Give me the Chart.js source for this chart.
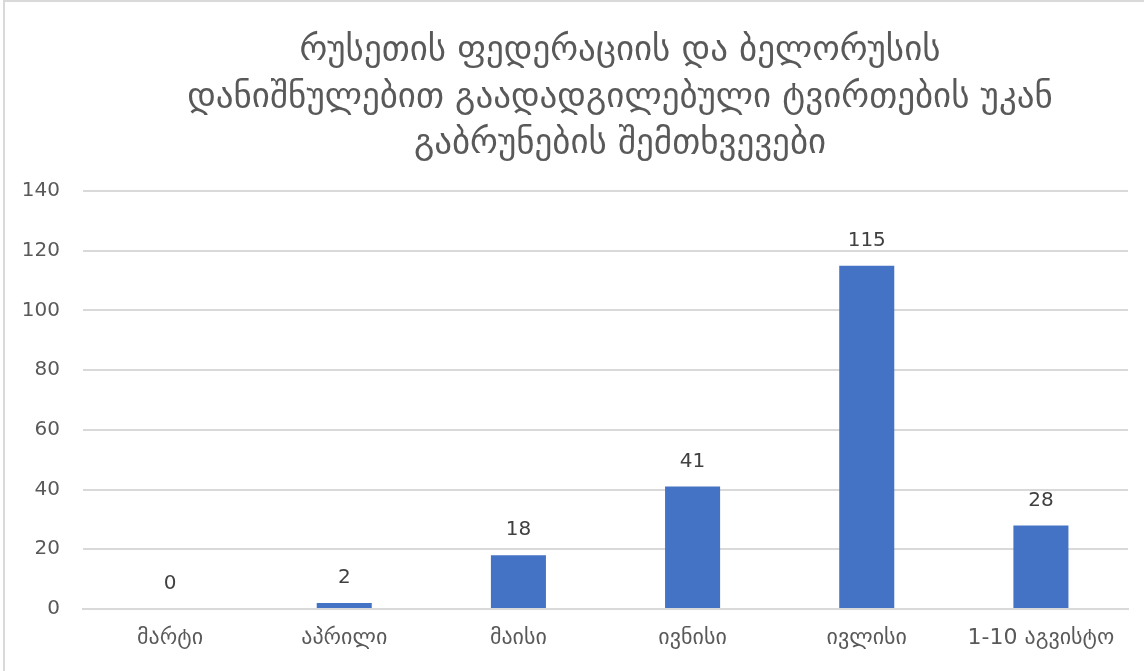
<!DOCTYPE html>
<html>
<head>
<meta charset="utf-8">
<script src="https://cdn.jsdelivr.net/npm/chart.js@4"></script>
<style>
html,body{margin:0;padding:0;background:#fff;}
#wrap{position:absolute;left:0;top:0;width:1144px;height:671px;}
#frame{position:absolute;left:3px;top:0;width:1141px;height:671px;border-left:2px solid #d9d9d9;border-top:2px solid #d9d9d9;box-sizing:border-box;pointer-events:none;}
canvas{position:absolute;left:0;top:0;}
</style>
</head>
<body>
<div id="wrap">
<canvas id="c" width="1144" height="671"></canvas>
<div id="frame"></div>
</div>
<script>
const titleLines = [
  "რუსეთის ფედერაციის და ბელორუსის",
  "დანიშნულებით გაადადგილებული ტვირთების უკან",
  "გაბრუნების შემთხვევები"
];
const categories = ["მარტი", "აპრილი", "მაისი", "ივნისი", "ივლისი", "1-10 აგვისტო"];
const values = [0, 2, 18, 41, 115, 28];
const yTicks = [0, 20, 40, 60, 80, 100, 120, 140];

const FONT = "'DejaVu Sans', sans-serif";

const titlePlugin = {
  id: 'titleText',
  afterDraw(chart) {
    const ctx = chart.ctx;
    ctx.save();
    ctx.font = "35px " + FONT;
    ctx.fillStyle = '#595959';
    ctx.textAlign = 'center';
    ctx.textBaseline = 'middle';
    titleLines.forEach((line, i) => {
      ctx.fillText(line, 620, 51 + i * 46.5);
    });
    ctx.restore();
  }
};

const dataLabels = {
  id: 'dataLabels',
  afterDatasetsDraw(chart) {
    const ctx = chart.ctx;
    const meta = chart.getDatasetMeta(0);
    ctx.save();
    ctx.font = "20px " + FONT;
    ctx.fillStyle = '#404040';
    ctx.textAlign = 'center';
    ctx.textBaseline = 'middle';
    meta.data.forEach((bar, i) => {
      ctx.fillText(String(values[i]), bar.x, bar.y - 25);
    });
    ctx.restore();
  }
};

new Chart(document.getElementById('c'), {
  type: 'bar',
  data: {
    labels: categories,
    datasets: [{
      data: values,
      backgroundColor: '#4472C4',
      borderWidth: 0,
      categoryPercentage: 1,
      barPercentage: 0.316
    }]
  },
  options: {
    responsive: false,
    animation: false,
    devicePixelRatio: 1,
    layout: { padding: { left: 0, right: 16, top: 191, bottom: 0 } },
    plugins: {
      legend: { display: false },
      tooltip: { enabled: false },
      title: { display: false }
    },
    scales: {
      x: {
        grid: { display: false, drawTicks: false },
        border: { display: true, color: '#d9d9d9', width: 2 },
        ticks: { color: '#595959', font: { family: FONT, size: 22 }, padding: 16, maxRotation: 0, autoSkip: false },
        afterFit(s) { s.height = 62; }
      },
      y: {
        min: 0, max: 140,
        afterBuildTicks(s) { s.ticks = yTicks.map(v => ({ value: v })); },
        grid: { color: '#d9d9d9', lineWidth: 2, drawTicks: false },
        border: { display: false },
        ticks: { color: '#595959', font: { family: FONT, size: 20 }, padding: 23 },
        afterFit(s) { s.width = 83; }
      }
    }
  },
  plugins: [titlePlugin, dataLabels]
});
</script>
</body>
</html>
